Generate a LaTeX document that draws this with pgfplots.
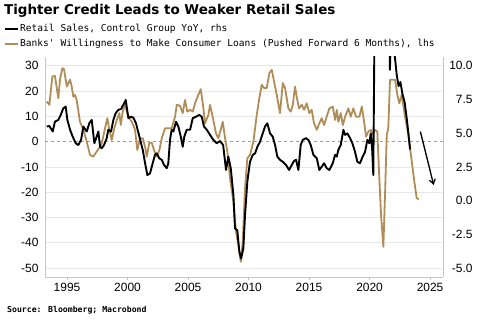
\documentclass[border=0pt]{standalone}
\usepackage{pgfplots}
\pgfplotsset{compat=1.18}
\usepackage{pgfplotstable}
\usetikzlibrary{arrows.meta}
\usepackage{fontspec}
\setmainfont{Liberation Sans}
\newfontfamily\titlefont{DejaVu Sans}
\newfontfamily\monofont{DejaVu Sans Mono}
\definecolor{gold}{RGB}{176,141,86}

% Banks' willingness (lhs, %)
\pgfplotstableread{
x y
1993.32 15.9
1993.54 14.6
1993.79 25.8
1994.00 26.0
1994.28 17.2
1994.42 24.5
1994.61 29.1
1994.75 28.7
1994.98 21.8
1995.25 24.5
1995.39 21.8
1995.52 17.8
1995.66 18.5
1995.80 16.5
1996.07 7.9
1996.35 4.7
1996.63 0.0
1996.90 -5.2
1997.17 -5.9
1997.45 -3.9
1997.73 -2.0
1997.87 -0.6
1998.14 5.3
1998.33 9.3
1998.50 4.7
1998.69 0.7
1998.91 5.3
1999.11 8.6
1999.32 11.3
1999.44 6.6
1999.60 11.9
1999.79 14.6
2000.07 9.9
2000.35 7.9
2000.62 4.7
2000.81 -3.3
2001.03 1.4
2001.26 1.4
2001.45 -2.0
2001.59 -5.9
2001.80 -0.4
2002.00 -0.4
2002.19 -3.3
2002.41 -5.9
2002.63 -3.3
2002.83 1.4
2003.10 5.3
2003.37 5.3
2003.65 5.3
2003.93 9.9
2004.07 14.6
2004.34 14.2
2004.56 11.3
2004.75 16.5
2004.94 11.9
2005.17 12.6
2005.39 11.9
2005.58 15.2
2005.85 18.5
2006.05 20.8
2006.27 13.2
2006.40 7.3
2006.68 10.6
2006.82 14.6
2007.09 8.6
2007.31 3.3
2007.50 1.4
2007.70 4.7
2007.87 7.9
2008.06 1.4
2008.25 -3.9
2008.47 -14.5
2008.75 -23.7
2008.97 -35.6
2009.16 -40.9
2009.36 -47.5
2009.52 -39.6
2009.71 -18.4
2009.90 -6.6
2010.12 -5.2
2010.40 0.0
2010.68 10.6
2010.89 17.2
2011.09 22.5
2011.28 21.2
2011.50 21.2
2011.72 27.1
2011.92 28.4
2012.11 23.8
2012.33 18.5
2012.60 11.3
2012.83 23.2
2013.02 21.2
2013.29 13.2
2013.49 11.9
2013.66 14.6
2013.84 21.8
2013.98 17.8
2014.17 13.2
2014.40 14.6
2014.59 12.6
2014.81 15.2
2015.02 11.3
2015.22 12.6
2015.41 7.3
2015.64 4.7
2015.85 7.3
2016.05 9.3
2016.24 6.6
2016.46 9.9
2016.68 13.2
2016.96 13.9
2017.15 8.6
2017.29 12.6
2017.42 7.9
2017.62 11.3
2017.79 6.6
2017.98 9.9
2018.25 13.2
2018.45 9.9
2018.66 13.2
2018.88 9.9
2019.16 9.9
2019.36 13.9
2019.55 7.9
2019.71 2.0
2019.90 4.0
2020.10 4.7
2020.26 2.7
2020.45 4.7
2020.64 4.0
2020.81 -14.5
2020.95 -29.0
2021.14 -41.6
2021.28 -21.1
2021.42 2.7
2021.55 5.3
2021.69 24.5
2021.92 24.5
2022.11 24.5
2022.30 18.5
2022.46 15.2
2022.66 18.5
2022.93 9.9
2023.21 2.7
2023.49 -7.9
2023.70 -15.8
2023.90 -22.4
2024.07 -22.7
}\willing

% Retail sales control group YoY (rhs, %)
\pgfplotstableread{
x y
1993.32 5.50
1993.54 5.54
1993.82 5.13
1994.00 5.86
1994.28 5.99
1994.48 6.36
1994.69 6.85
1994.89 6.98
1995.03 5.99
1995.25 5.26
1995.47 4.75
1995.72 4.26
1995.93 4.13
1996.16 4.51
1996.35 5.50
1996.63 5.13
1996.84 5.74
1997.04 5.99
1997.26 4.26
1997.45 4.75
1997.59 5.13
1997.73 4.00
1997.87 3.89
1998.06 4.13
1998.28 4.64
1998.41 5.26
1998.64 5.13
1998.83 5.99
1999.02 6.49
1999.24 6.74
1999.46 6.79
1999.65 7.11
1999.85 7.47
2000.07 6.12
2000.26 6.23
2000.48 6.16
2000.70 5.74
2000.98 4.75
2001.26 3.76
2001.45 2.78
2001.64 1.90
2001.86 2.03
2002.08 2.78
2002.27 3.40
2002.41 3.51
2002.63 3.14
2002.83 3.03
2003.02 2.65
2003.24 2.41
2003.37 2.78
2003.51 4.51
2003.65 5.26
2003.79 5.13
2004.01 5.86
2004.20 5.50
2004.40 4.75
2004.56 4.00
2004.69 4.75
2004.89 5.26
2005.17 5.26
2005.39 6.12
2005.66 6.23
2005.93 6.36
2006.13 6.23
2006.32 5.50
2006.55 5.26
2006.82 4.88
2007.09 4.51
2007.37 4.26
2007.64 4.43
2007.90 4.13
2008.14 2.28
2008.33 3.27
2008.53 2.41
2008.75 0.42
2008.88 -2.06
2009.07 -2.19
2009.24 -3.78
2009.38 -4.29
2009.57 -3.54
2009.71 -1.06
2009.90 1.41
2010.12 2.89
2010.35 3.40
2010.54 3.51
2010.73 4.00
2010.95 4.38
2011.17 4.99
2011.36 5.50
2011.55 5.74
2011.78 4.99
2012.00 4.75
2012.19 4.13
2012.38 3.27
2012.60 3.03
2012.83 2.89
2013.10 2.65
2013.35 2.28
2013.57 2.65
2013.76 2.95
2013.93 3.03
2014.12 2.28
2014.31 4.13
2014.48 4.51
2014.75 4.64
2014.94 4.51
2015.14 4.13
2015.36 3.40
2015.64 3.14
2015.85 2.28
2016.05 2.52
2016.24 2.78
2016.46 2.41
2016.68 2.28
2016.96 2.78
2017.15 3.40
2017.29 3.27
2017.42 3.76
2017.62 4.13
2017.84 5.26
2017.98 4.88
2018.17 4.99
2018.39 4.64
2018.58 4.26
2018.80 3.63
2018.99 2.89
2019.21 2.78
2019.43 3.27
2019.63 3.63
2019.82 4.51
2019.98 4.26
2020.10 4.99
2020.21 3.89
2020.31 1.90
2020.42 14.00
2021.62 14.00
2021.68 9.70
2021.76 12.00
2021.95 11.50
2022.10 10.60
2022.25 9.30
2022.40 8.50
2022.55 8.80
2022.72 7.90
2022.90 7.30
2023.10 5.90
2023.35 3.80
}\retail

\begin{document}
\begin{tikzpicture}
\useasboundingbox (0,0) rectangle (485bp,324bp);
\node[anchor=base west, inner sep=0, font=\titlefont\bfseries\fontsize{13.5}{15}\selectfont] at (4bp,309bp) {Tighter Credit Leads to Weaker Retail Sales};
\draw[black, line width=2.2bp] (5bp,294.7bp) -- (18bp,294.7bp);
\node[anchor=base west, inner sep=0, font=\monofont\fontsize{9.6}{11}\selectfont] at (20bp,292.4bp) {Retail Sales, Control Group YoY, rhs};
\draw[gold, line width=2.2bp] (5bp,279.7bp) -- (18bp,279.7bp);
\node[anchor=base west, inner sep=0, font=\monofont\fontsize{9.6}{11}\selectfont] at (20bp,277.4bp) {Banks' Willingness to Make Consumer Loans (Pushed Forward 6 Months), lhs};
\node[anchor=base west, inner sep=0, font=\monofont\bfseries\fontsize{8.2}{10}\selectfont] at (7bp,12bp) {Source: Bloomberg; Macrobond};

\begin{axis}[
  at={(45bp,47bp)}, anchor=south west,
  scale only axis, width=398bp, height=220bp,
  xmin=1993.18, xmax=2026.07, ymin=-53.5, ymax=33.5,
  axis x line*=bottom, axis y line*=left,
  axis line style={draw=gray!45, -},
  xtick={1995,2000,2005,2010,2015,2020,2025},
  ytick={-50,-40,-30,-20,-10,10,20,30},
  extra y ticks={0},
  extra y tick style={grid=major, major grid style={draw=gray!75, dashed, line width=0.7bp}},
  ymajorgrids, major grid style={draw=gray!18, line width=0.9bp},
  tick align=outside,
  major tick length=3bp,
  xtick style={draw=gray!50},
  ytick style={draw=none},
  tick label style={font=\fontsize{12}{14}\selectfont},
  /pgf/number format/assume math mode=true,
  /pgf/number format/1000 sep={},
]
\addplot[gold, line width=1.8bp, line join=round] table[x=x, y=y] {\willing};
\draw[black, line width=1.3bp, -{Straight Barb[length=4.5bp,width=6bp]}] (axis cs:2024.2,4.0) -- (axis cs:2025.3,-17.1);
\node[rotate=90, font=\fontsize{8}{9}\selectfont] at (axis description cs:-0.088,0.5) {\%};
\end{axis}

\begin{axis}[
  at={(45bp,47bp)}, anchor=south west,
  scale only axis, width=398bp, height=220bp,
  xmin=1993.18, xmax=2026.07, ymin=-5.65625, ymax=10.65625,
  axis y line*=right, axis x line=none,
  axis line style={draw=gray!45, -},
  ytick={-5,-2.5,0,2.5,5,7.5,10},
  ytick style={draw=none},
  yticklabel style={font=\fontsize{12}{14}\selectfont, text width=26bp, align=right},
  /pgf/number format/.cd, fixed, fixed zerofill, precision=1, assume math mode=true,
]
\addplot[black, line width=1.9bp, line join=round] table[x=x, y=y] {\retail};
\node[rotate=90, font=\fontsize{8}{9}\selectfont] at (axis description cs:1.083,0.5) {\%};
\end{axis}
\end{tikzpicture}
\end{document}
